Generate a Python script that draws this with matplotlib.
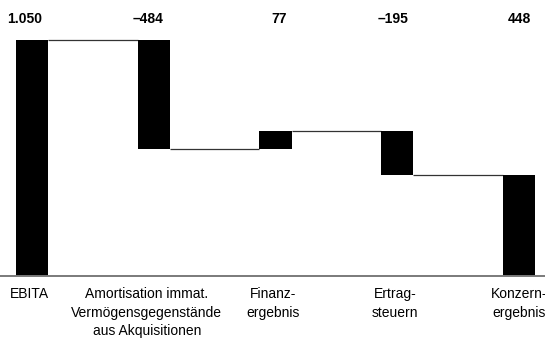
import matplotlib
matplotlib.use("Agg")
import matplotlib.pyplot as plt
import numpy as np

plt.rcParams['font.family'] = ['Liberation Sans', 'DejaVu Sans']

# Bridge from EBITA to Konzernergebnis (Mio. €)
categories = [
    "EBITA",
    "Amortisation immat.\nVermögensgegenstände\naus Akquisitionen",
    "Finanz-\nergebnis",
    "Ertrag-\nsteuern",
    "Konzern-\nergebnis",
]
values = [1050, -484, 77, -195, 448]
value_labels = ["1.050", "\u2013484", "77", "\u2013195", "448"]
is_total = [True, False, False, False, True]

# Small horizontal nudges of the labels, in pixels
value_label_dx = [-7, -6, 4, -4, 0]
category_label_dx = [-2.5, -7, -2, -2, 0]

# Bar extents: totals start at zero, changes float on the running sum
bottoms, heights, levels = [], [], []
running = 0.0
for v, total in zip(values, is_total):
    if total:
        bottoms.append(0.0)
        heights.append(v)
        running = v
    else:
        start = running
        running = running + v
        bottoms.append(min(start, running))
        heights.append(abs(v))
    levels.append(running)

fig = plt.figure(figsize=(5.45, 3.38), dpi=100)
ax = fig.add_axes([0, 0, 1, 1])

x = np.arange(len(values))
bar_w = 0.263
ax.bar(x, heights, bottom=bottoms, width=bar_w, color="black", linewidth=0, zorder=3)

# Connectors between consecutive bars
for i in range(len(values) - 1):
    y = levels[i]
    ax.plot([x[i] + bar_w / 2, x[i + 1] - bar_w / 2], [y, y],
            color="#333333", lw=0.9, solid_capstyle="butt", zorder=2)

ax.set_xlim(-0.263, 4.2136)
ax.set_ylim(-276, 1228)

# Baseline
ax.axhline(0, color="#7a7a7a", lw=1.4, zorder=4)

xt = ax.get_xaxis_transform()
px = 72 / 100  # points per pixel
for xi, lab, dx in zip(x, value_labels, value_label_dx):
    ax.annotate(lab, (xi, 1 - 23 / 338), xycoords=xt,
                xytext=(dx * px, 0), textcoords="offset points",
                ha="center", va="baseline",
                fontsize=10, fontweight="bold", color="black")
for xi, lab, dx in zip(x, categories, category_label_dx):
    ax.annotate(lab, (xi, 1 - 287 / 338), xycoords=xt,
                xytext=(dx * px, 0), textcoords="offset points",
                ha="center", va="top",
                fontsize=10, color="black", linespacing=1.42)

ax.axis("off")
fig.savefig("out.png", dpi=100, facecolor="white")
